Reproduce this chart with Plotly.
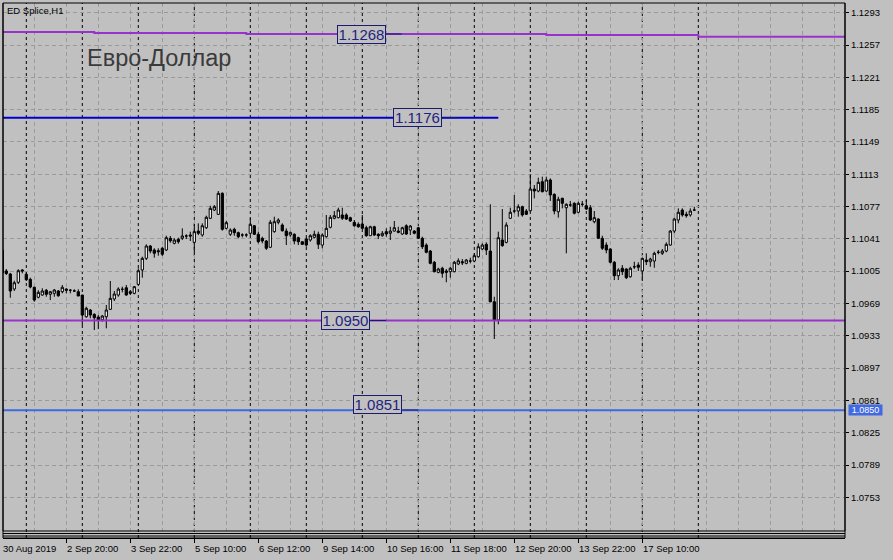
"""EURUSD H1 chart in the MetaTrader look."""

import plotly.graph_objects as go

# bar index 0 = 30 Aug 2019, one candle per index
opens = [
    1.10286, 1.10052, 1.10018, 1.09851, 1.09926, 1.10063, 1.10015, 1.09959, 1.09870, 1.09759,
    1.09784, 1.09837, 1.09792, 1.09803, 1.09829, 1.09821, 1.09851, 1.09837, 1.09829, 1.09821,
    1.09784, 1.09542, 1.09617, 1.09569, 1.09539, 1.09509, 1.09542, 1.09625, 1.09740, 1.09784,
    1.09848, 1.09865, 1.09821, 1.09803, 1.09903, 1.10063, 1.10193, 1.10330, 1.10286, 1.10278,
    1.10305, 1.10286, 1.10416, 1.10360, 1.10405, 1.10416, 1.10442, 1.10453, 1.10371, 1.10497,
    1.10453, 1.10534, 1.10639, 1.10731, 1.10683, 1.10917, 1.10527, 1.10461, 1.10516, 1.10479,
    1.10453, 1.10453, 1.10472, 1.10556, 1.10461, 1.10416, 1.10386, 1.10316, 1.10490, 1.10594,
    1.10564, 1.10497, 1.10453, 1.10461, 1.10423, 1.10378, 1.10408, 1.10397, 1.10427, 1.10461,
    1.10341, 1.10434, 1.10539, 1.10639, 1.10646, 1.10676, 1.10676, 1.10646, 1.10594, 1.10572,
    1.10575, 1.10534, 1.10445, 1.10545, 1.10461, 1.10445, 1.10490, 1.10472, 1.10497, 1.10497,
    1.10464, 1.10556, 1.10508, 1.10497, 1.10534, 1.10416, 1.10341, 1.10274, 1.10149, 1.10037,
    1.10082, 1.10052, 1.10044, 1.10044, 1.10130, 1.10155, 1.10137, 1.10163, 1.10163, 1.10211,
    1.10297, 1.10349, 1.10274, 1.09709, 1.09506, 1.10397, 1.10371, 1.10639, 1.10720, 1.10720,
    1.10768, 1.10720, 1.10723, 1.10965, 1.10943, 1.11047, 1.10943, 1.11066, 1.10906, 1.10712,
    1.10862, 1.10757, 1.10787, 1.10806, 1.10706, 1.10795, 1.10779, 1.10757, 1.10601, 1.10631,
    1.10416, 1.10341, 1.10297, 1.10149, 1.09999, 1.10082, 1.10074, 1.09988, 1.10099, 1.10118,
    1.10052, 1.10174, 1.10155, 1.10163, 1.10260, 1.10249, 1.10274, 1.10341, 1.10497, 1.10620,
    1.10731, 1.10683, 1.10676, 1.10731,
]
highs = [
    1.10308, 1.10074, 1.10030, 1.09943, 1.10071, 1.10071, 1.10037, 1.09977, 1.09877, 1.09837,
    1.09859, 1.09851, 1.09829, 1.09851, 1.09840, 1.09896, 1.09859, 1.09851, 1.09848, 1.09848,
    1.09784, 1.09654, 1.09628, 1.09580, 1.09561, 1.09561, 1.09673, 1.09940, 1.09829, 1.09870,
    1.09877, 1.09896, 1.09840, 1.09884, 1.10082, 1.10211, 1.10349, 1.10341, 1.10305, 1.10305,
    1.10322, 1.10445, 1.10442, 1.10416, 1.10423, 1.10527, 1.10461, 1.10490, 1.10572, 1.10583,
    1.10583, 1.10668, 1.10779, 1.10787, 1.10943, 1.10929, 1.10609, 1.10527, 1.10534, 1.10490,
    1.10472, 1.10472, 1.10639, 1.10564, 1.10490, 1.10434, 1.10397, 1.10620, 1.10657, 1.10639,
    1.10583, 1.10527, 1.10490, 1.10472, 1.10434, 1.10386, 1.10423, 1.10461, 1.10501, 1.10490,
    1.10472, 1.10676, 1.10676, 1.10720, 1.10757, 1.10757, 1.10695, 1.10657, 1.10620, 1.10594,
    1.10676, 1.10556, 1.10556, 1.10556, 1.10472, 1.10497, 1.10527, 1.10545, 1.10609, 1.10545,
    1.10545, 1.10572, 1.10564, 1.10508, 1.10545, 1.10434, 1.10360, 1.10286, 1.10163, 1.10088,
    1.10099, 1.10074, 1.10099, 1.10163, 1.10193, 1.10185, 1.10185, 1.10200, 1.10249, 1.10360,
    1.10360, 1.10371, 1.10795, 1.09765, 1.10490, 1.10742, 1.10594, 1.10757, 1.10899, 1.10795,
    1.10779, 1.10742, 1.11129, 1.11010, 1.11092, 1.11103, 1.11103, 1.11084, 1.10917, 1.10880,
    1.10868, 1.10806, 1.10832, 1.10817, 1.10824, 1.10832, 1.10843, 1.10787, 1.10720, 1.10639,
    1.10445, 1.10371, 1.10305, 1.10163, 1.10082, 1.10118, 1.10082, 1.10099, 1.10155, 1.10149,
    1.10200, 1.10249, 1.10200, 1.10267, 1.10286, 1.10297, 1.10371, 1.10508, 1.10646, 1.10750,
    1.10750, 1.10712, 1.10750, 1.10768,
]
lows = [
    1.10024, 1.10007, 1.09754, 1.09829, 1.09907, 1.10026, 1.09940, 1.09859, 1.09709, 1.09747,
    1.09776, 1.09765, 1.09728, 1.09765, 1.09765, 1.09803, 1.09803, 1.09803, 1.09821, 1.09773,
    1.09450, 1.09531, 1.09525, 1.09394, 1.09405, 1.09487, 1.09413, 1.09617, 1.09717, 1.09765,
    1.09814, 1.09776, 1.09784, 1.09792, 1.09896, 1.09977, 1.10174, 1.10249, 1.10200, 1.10222,
    1.10219, 1.10274, 1.10367, 1.10349, 1.10356, 1.10397, 1.10408, 1.10386, 1.10249, 1.10453,
    1.10434, 1.10520, 1.10631, 1.10720, 1.10676, 1.10501, 1.10516, 1.10442, 1.10445, 1.10416,
    1.10427, 1.10427, 1.10453, 1.10453, 1.10360, 1.10360, 1.10286, 1.10311, 1.10479, 1.10572,
    1.10490, 1.10341, 1.10434, 1.10349, 1.10341, 1.10341, 1.10322, 1.10378, 1.10416, 1.10297,
    1.10305, 1.10423, 1.10527, 1.10628, 1.10639, 1.10620, 1.10620, 1.10601, 1.10545, 1.10534,
    1.10520, 1.10434, 1.10442, 1.10442, 1.10408, 1.10434, 1.10434, 1.10397, 1.10490, 1.10472,
    1.10453, 1.10453, 1.10453, 1.10461, 1.10408, 1.10297, 1.10249, 1.10126, 1.10037, 1.10026,
    1.09977, 1.09926, 1.09977, 1.10037, 1.10118, 1.10118, 1.10126, 1.10137, 1.10149, 1.10200,
    1.10286, 1.10230, 1.09703, 1.09294, 1.09458, 1.10322, 1.10360, 1.10631, 1.10695, 1.10657,
    1.10657, 1.10676, 1.10720, 1.10861, 1.10929, 1.10929, 1.10935, 1.10832, 1.10683, 1.10646,
    1.10750, 1.10249, 1.10768, 1.10683, 1.10695, 1.10768, 1.10731, 1.10609, 1.10583, 1.10408,
    1.10286, 1.10249, 1.10137, 1.09951, 1.09951, 1.10007, 1.09962, 1.09977, 1.10074, 1.10052,
    1.09940, 1.10118, 1.10099, 1.10088, 1.10238, 1.10230, 1.10260, 1.10334, 1.10472, 1.10583,
    1.10657, 1.10646, 1.10657, 1.10720,
]
closes = [
    1.10030, 1.10024, 1.09829, 1.09921, 1.10055, 1.10052, 1.09955, 1.09873, 1.09728, 1.09814,
    1.09829, 1.09792, 1.09821, 1.09840, 1.09776, 1.09870, 1.09837, 1.09837, 1.09829, 1.09773,
    1.09561, 1.09636, 1.09561, 1.09531, 1.09506, 1.09550, 1.09617, 1.09747, 1.09795, 1.09851,
    1.09848, 1.09784, 1.09803, 1.09877, 1.10055, 1.10193, 1.10330, 1.10274, 1.10249, 1.10267,
    1.10238, 1.10423, 1.10389, 1.10397, 1.10378, 1.10442, 1.10442, 1.10442, 1.10490, 1.10472,
    1.10556, 1.10650, 1.10750, 1.10768, 1.10917, 1.10516, 1.10590, 1.10508, 1.10479, 1.10434,
    1.10453, 1.10453, 1.10572, 1.10461, 1.10378, 1.10386, 1.10305, 1.10594, 1.10601, 1.10620,
    1.10501, 1.10445, 1.10483, 1.10386, 1.10378, 1.10349, 1.10341, 1.10445, 1.10461, 1.10349,
    1.10453, 1.10527, 1.10650, 1.10668, 1.10731, 1.10639, 1.10631, 1.10609, 1.10556, 1.10545,
    1.10527, 1.10445, 1.10545, 1.10453, 1.10445, 1.10472, 1.10464, 1.10497, 1.10534, 1.10483,
    1.10534, 1.10464, 1.10553, 1.10472, 1.10416, 1.10322, 1.10260, 1.10137, 1.10044, 1.10074,
    1.10026, 1.10037, 1.10082, 1.10149, 1.10166, 1.10144, 1.10174, 1.10163, 1.10222, 1.10322,
    1.10341, 1.10286, 1.09709, 1.09506, 1.10423, 1.10334, 1.10564, 1.10706, 1.10720, 1.10768,
    1.10676, 1.10683, 1.10965, 1.10943, 1.11040, 1.10935, 1.11066, 1.10899, 1.10720, 1.10851,
    1.10806, 1.10795, 1.10787, 1.10695, 1.10806, 1.10795, 1.10742, 1.10620, 1.10646, 1.10416,
    1.10305, 1.10286, 1.10149, 1.09999, 1.10063, 1.10044, 1.09977, 1.10082, 1.10099, 1.10093,
    1.10193, 1.10155, 1.10185, 1.10249, 1.10260, 1.10274, 1.10349, 1.10497, 1.10631, 1.10706,
    1.10676, 1.10668, 1.10720, 1.10731,
]

# time axis labels (every 16 bars)
time_label_bars = [0, 16, 32, 48, 64, 80, 96, 112, 128, 144, 160]
time_labels = [
    "30 Aug 2019", "2 Sep 20:00", "3 Sep 22:00", "5 Sep 10:00", "6 Sep 12:00",
    "9 Sep 14:00", "10 Sep 16:00", "11 Sep 18:00", "12 Sep 20:00",
    "13 Sep 22:00", "17 Sep 10:00",
]
# day separators
separator_bars = [6, 20, 34, 48, 62, 76, 90, 104, 118, 132, 146, 160, 174]

# price scale labels
price_ticks = [round(1.1293 - 0.0036 * i, 4) for i in range(16)]

# upper purple stepped level
top_line_bars = [-2, 23, 61, 136, 174, 212]
top_line_prices = [1.12715, 1.12704, 1.12693, 1.12681, 1.12663, 1.12663]

# horizontal levels: price, last bar, colour
level_prices = [1.1176, 1.0950, 1.0850]
level_ends = [124, 212, 212]
level_colors = ["#0000CD", "#9932CC", "#4169E1"]

# text labels on the levels: text, box price, left bar, price of the tail line
tag_texts = ["1.1268", "1.1176", "1.0950", "1.0851"]
tag_prices = [1.12685, 1.1176, 1.0950, 1.08568]
tag_bars = [83.6, 97.7, 79.7, 87.75]
tag_tail_prices = [1.12693, 1.1176, 1.0950, 1.08503]

BG = "#C0C0C0"
GRID = "#9a9a9a"
FONT = "Liberation Sans"

W, H = 893, 560
L, R, T, B = 3, 48, 3, 22
PLOT_W = W - L - R
PLOT_H = H - T - B
X0 = 0.175
X1 = X0 + PLOT_W / 4.0
MAIN_BOTTOM = 531
Y_LOW, Y_HIGH = 1.071546, 1.130381


def py(pixel_y):
    """Paper y for a pixel row."""
    return (T + PLOT_H - pixel_y) / PLOT_H


def px(pixel_x):
    return (pixel_x - L) / PLOT_W


def bar_to_paper(bar):
    return (bar - X0) / (X1 - X0)


bars = list(range(len(opens)))
assert len(opens) == len(highs) == len(lows) == len(closes)

fig = go.Figure()
fig.add_trace(
    go.Candlestick(
        x=bars,
        open=opens,
        high=highs,
        low=lows,
        close=closes,
        increasing=dict(line=dict(color="black", width=1), fillcolor="white"),
        decreasing=dict(line=dict(color="black", width=1), fillcolor="black"),
        whiskerwidth=0,
        hoverinfo="skip",
        showlegend=False,
    )
)
fig.add_trace(
    go.Scatter(
        x=top_line_bars,
        y=top_line_prices,
        mode="lines",
        line=dict(color="#9932CC", width=2, shape="hv"),
        hoverinfo="skip",
        showlegend=False,
    )
)
for price, end, color in zip(level_prices, level_ends, level_colors):
    fig.add_trace(
        go.Scatter(
            x=[-2, end],
            y=[price, price],
            mode="lines",
            line=dict(color=color, width=2),
            hoverinfo="skip",
            showlegend=False,
        )
    )

shapes = []
for b in separator_bars:
    shapes.append(dict(
        type="line", xref="x", yref="paper", x0=b, x1=b, y0=0, y1=1,
        line=dict(color="black", width=1, dash="3px,3px"), layer="below",
    ))
# frame of main window and the thin sub-window
shapes.append(dict(type="rect", xref="paper", yref="paper", x0=0, x1=1,
                   y0=py(MAIN_BOTTOM), y1=1, line=dict(color="black", width=1)))
for row in (533.5, 536, 538):
    shapes.append(dict(type="line", xref="paper", yref="paper", x0=0, x1=1,
                       y0=py(row), y1=py(row), line=dict(color="black", width=1)))
shapes.append(dict(type="line", xref="paper", yref="paper", x0=0, x1=0,
                   y0=0, y1=1, line=dict(color="black", width=1)))
shapes.append(dict(type="line", xref="paper", yref="paper", x0=1, x1=1,
                   y0=0, y1=1, line=dict(color="black", width=1)))

annotations = []
# tags with the short tail line to the right of the box
for text, price, bar, tail_price in zip(tag_texts, tag_prices, tag_bars, tag_tail_prices):
    annotations.append(dict(
        x=bar, y=price, xref="x", yref="y", text=text, showarrow=False,
        xanchor="left", yanchor="middle", width=47, height=17, borderpad=0,
        bordercolor="#1a1a6e", borderwidth=1, bgcolor=BG,
        font=dict(family=FONT, size=15, color="#23237f"),
    ))
    tail_start = bar + 49 / 4.0
    shapes.append(dict(
        type="line", xref="x", yref="y", x0=tail_start, x1=tail_start + 4,
        y0=tail_price, y1=tail_price, line=dict(color="#1a1a6e", width=1),
        layer="above",
    ))

for bar, text in zip(time_label_bars, time_labels):
    annotations.append(dict(
        x=bar_to_paper(bar), y=py(548), xref="paper", yref="paper", text=text,
        showarrow=False, xanchor="left", yanchor="middle", xshift=-1,
        font=dict(family=FONT, size=9.5, color="black"),
    ))

annotations.append(dict(
    x=px(5), y=py(10), xref="paper", yref="paper", text="ED Splice,H1",
    showarrow=False, xanchor="left", yanchor="middle",
    font=dict(family=FONT, size=9.5, color="black"),
))
annotations.append(dict(
    x=px(85), y=py(58), xref="paper", yref="paper", text="Евро-Доллар",
    showarrow=False, xanchor="left", yanchor="middle",
    font=dict(family=FONT, size=23.5, color="#3a3a3a"),
))
annotations.append(dict(
    x=px(848), y=level_prices[2], xref="paper", yref="y", text="1.0850",
    showarrow=False, xanchor="left", yanchor="middle", width=33, height=10,
    borderpad=0, bgcolor="#4169E1",
    font=dict(family=FONT, size=9, color="white"),
))

fig.update_layout(
    width=W,
    height=H,
    margin=dict(l=L, r=R, t=T, b=B),
    paper_bgcolor=BG,
    plot_bgcolor=BG,
    boxgap=0.2,
    showlegend=False,
    shapes=shapes,
    annotations=annotations,
    xaxis=dict(
        range=[X0, X1],
        anchor="free",
        position=0,
        tickmode="array",
        tickvals=time_label_bars,
        ticktext=[""] * len(time_label_bars),
        ticks="outside",
        ticklen=4,
        tickcolor="black",
        showgrid=True,
        gridcolor=GRID,
        griddash="4px,3px",
        minor=dict(dtick=8, tick0=0, showgrid=True, gridcolor=GRID,
                   griddash="4px,3px", ticks=""),
        showline=True,
        linecolor="black",
        zeroline=False,
        rangeslider=dict(visible=False),
        fixedrange=True,
    ),
    yaxis=dict(
        domain=[py(MAIN_BOTTOM), 1],
        range=[Y_LOW, Y_HIGH],
        side="right",
        tickmode="array",
        tickvals=price_ticks,
        ticktext=[f"{v:.4f}" for v in price_ticks],
        ticks="outside",
        ticklen=3,
        tickcolor="black",
        tickfont=dict(family=FONT, size=9.5, color="black"),
        showgrid=True,
        gridcolor=GRID,
        griddash="4px,3px",
        showline=False,
        zeroline=False,
        fixedrange=True,
    ),
)

# the page body has a default 8px margin; drop it so the chart sits at 0,0
fig.write_html(
    "out.html",
    config={"displayModeBar": False},
    post_script="document.body.style.margin='0';document.body.style.overflow='hidden';",
)
